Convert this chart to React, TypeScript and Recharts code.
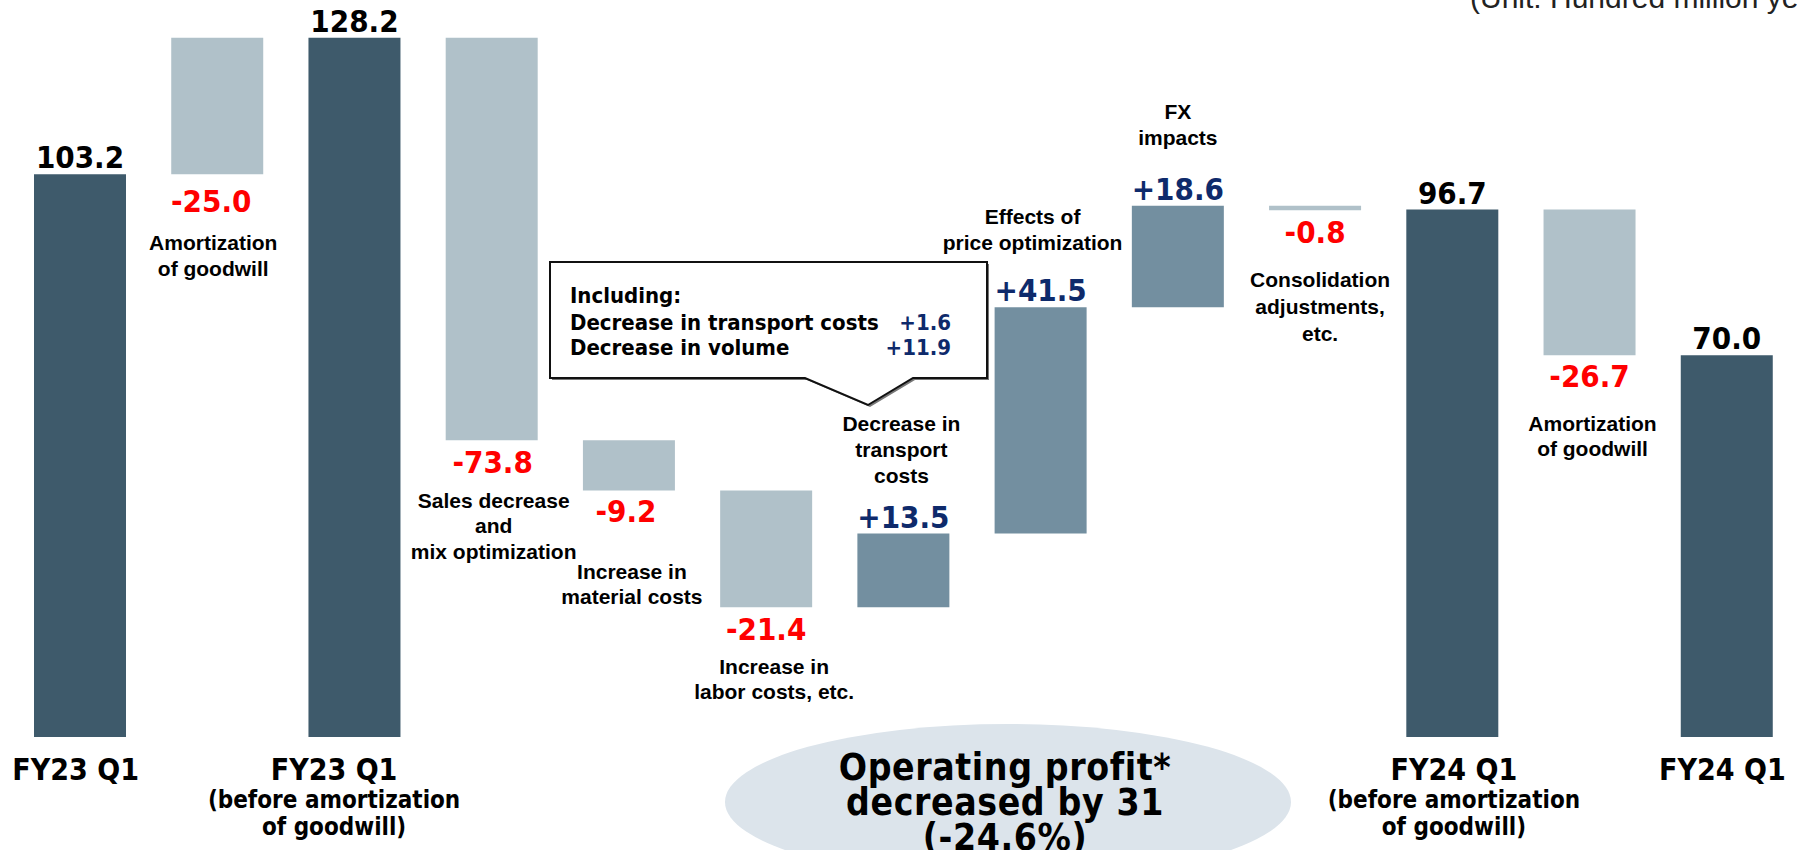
import { BarChart, Bar, XAxis, YAxis, Cell, LabelList } from "recharts";

const W = 1797;
const H = 850;

// one entry per bar, left to right
const values = [103.2, -25.0, 128.2, -73.8, -9.2, -21.4, 13.5, 41.5, 18.6, -0.8, 96.7, -26.7, 70.0];
const kinds = ["total", "bridge", "total", "step", "step", "step", "step", "step", "step", "step", "total", "bridge", "total"];

const axisLines: string[][] = [
  ["FY23 Q1"],
  [],
  ["FY23 Q1", "(before amortization", "of goodwill)"],
  [], [], [], [], [], [], [],
  ["FY24 Q1", "(before amortization", "of goodwill)"],
  [],
  ["FY24 Q1"],
];

const noteLines: string[][] = [
  [],
  ["Amortization", "of goodwill"],
  [],
  ["Sales decrease", "and", "mix optimization"],
  ["Increase in", "material costs"],
  ["Increase in", "labor costs, etc."],
  ["Decrease in", "transport", "costs"],
  ["Effects of", "price optimization"],
  ["FX", "impacts"],
  ["Consolidation", "adjustments,", "etc."],
  [],
  ["Amortization", "of goodwill"],
  [],
];

const calloutRows = [
  { label: "Decrease in transport costs", value: "+1.6" },
  { label: "Decrease in volume", value: "+11.9" },
];

const summary = ["Operating profit*", "decreased by 31", "(-24.6%)"];

const C = {
  total: "#3e5a6b",
  down: "#b0c1c9",
  up: "#738fa0",
  red: "#ff0000",
  navy: "#0e2a6b",
  bubble: "#dce4eb",
};

const BOLD = "'DejaVu Sans Condensed', 'DejaVu Sans', sans-serif";
const ARIAL = "'Liberation Sans', Arial, sans-serif";

// label placement relative to bar edge (top / bottom)
const PLACE = [
  { side: "top", v: -17, n: 0, lh: 0, dx: 0, ndx: 0 },
  { side: "bottom", v: 27, n: 68, lh: 26, dx: -6, ndx: -4 },
  { side: "top", v: -17, n: 0, lh: 0, dx: 0, ndx: 0 },
  { side: "bottom", v: 22, n: 60, lh: 25.5, dx: 1, ndx: 2 },
  { side: "bottom", v: 21, n: 81, lh: 25, dx: -3, ndx: 3 },
  { side: "bottom", v: 22, n: 59, lh: 25, dx: 0, ndx: 8 },
  { side: "top", v: -17, n: -110, lh: 26, dx: 0, ndx: -2 },
  { side: "top", v: -17, n: -91, lh: 26, dx: 0, ndx: -8 },
  { side: "top", v: -17, n: -94, lh: 26, dx: 0, ndx: 0 },
  { side: "bottom", v: 22, n: 69, lh: 27, dx: 0, ndx: 5 },
  { side: "top", v: -17, n: 0, lh: 0, dx: 0, ndx: 0 },
  { side: "bottom", v: 21, n: 68, lh: 25, dx: 0, ndx: 3 },
  { side: "top", v: -17, n: 0, lh: 0, dx: 0, ndx: 0 },
];
const TICK_DX = [-4, 0, -20, 0, 0, 0, 0, 0, 0, 0, 2, 0, -4];

let level = 0;
const rows = values.map((v, i) => {
  const kind = kinds[i];
  if (kind === "total") {
    level = v;
    return { key: String(i), base: 0, span: v };
  }
  if (kind === "bridge") {
    const a = values[i - 1];
    const b = values[i + 1];
    return { key: String(i), base: Math.min(a, b), span: Math.abs(b - a) };
  }
  const from = level;
  level = level + v;
  return { key: String(i), base: Math.min(from, level), span: Math.abs(v) };
});

const fillFor = (i: number) => {
  if (kinds[i] === "total") return C.total;
  if (kinds[i] === "bridge") return C.down;
  return values[i] < 0 ? C.down : C.up;
};

function StepLabel(props: any) {
  const i = props.index;
  if (i == null) return null;
  const vb = props.viewBox ?? props;
  const x = Number(vb.x);
  const w = Number(vb.width);
  const y0 = Math.min(Number(vb.y), Number(vb.y) + Number(vb.height));
  const y1 = Math.max(Number(vb.y), Number(vb.y) + Number(vb.height));
  const p = PLACE[i];
  const edge = p.side === "top" ? y0 : y1;
  const cx = x + w / 2;
  const v = values[i];
  const isTotal = kinds[i] === "total";
  const text = isTotal ? v.toFixed(1) : `${v > 0 ? "+" : ""}${v.toFixed(1)}`;
  const color = isTotal ? "#000" : v < 0 ? C.red : C.navy;
  return (
    <g>
      <text x={cx + p.dx} y={edge + p.v} textAnchor="middle" dominantBaseline="central"
        fontFamily={BOLD} fontWeight={700} fontSize={31} fill={color}>
        {text}
      </text>
      {noteLines[i].map((line, k) => (
        <text key={k} x={cx + p.ndx} y={edge + p.n + k * p.lh} textAnchor="middle" dominantBaseline="central"
          fontFamily={ARIAL} fontWeight={700} fontSize={21} fill="#000">
          {line}
        </text>
      ))}
    </g>
  );
}

function AxisTick(props: any) {
  const { x, y, payload } = props;
  const i = payload?.index ?? props.index;
  const lines = axisLines[i] ?? [];
  const cx = x + (TICK_DX[i] ?? 0);
  return (
    <g>
      {lines.map((line, k) => (
        <text key={k} x={cx} y={y + (k === 0 ? 32 : 36 + k * 27)} textAnchor="middle" dominantBaseline="central"
          fontFamily={BOLD} fontWeight={700} fontSize={k === 0 ? 30 : 24} fill="#000">
          {line}
        </text>
      ))}
    </g>
  );
}

export default function App() {
  return (
    <div style={{ position: "absolute", left: 0, top: 0, width: W, height: H, background: "#fff" }}>
      <BarChart width={W} height={H} data={rows} barSize={92} margin={{ top: 28, right: 2, left: 11, bottom: 0 }}>
        <XAxis dataKey="key" axisLine={false} tickLine={false} tickSize={0} tickMargin={0} height={113}
          interval={0} tick={<AxisTick />} />
        <YAxis hide domain={[0, 130]} />
        <Bar dataKey="base" stackId="w" fill="transparent" isAnimationActive={false} />
        <Bar dataKey="span" stackId="w" isAnimationActive={false}>
          {rows.map((r, i) => (
            <Cell key={r.key} fill={fillFor(i)} />
          ))}
          <LabelList dataKey="span" content={<StepLabel />} />
        </Bar>
      </BarChart>

      <svg width={W} height={H} style={{ position: "absolute", left: 0, top: 0, pointerEvents: "none" }}>
        <text x={1470} y={8} fontFamily={ARIAL} fontSize={30} fill="#222">(Unit: Hundred million yen)</text>

        {/* callout */}
        <path d="M552,264 H989 V380 H915 L870,407 L807,380 H552 Z" fill="#777" />
        <path d="M550,262 H987 V378 H913 L868,405 L805,378 H550 Z" fill="#fff" stroke="#111" strokeWidth={2} />
        <text x={570} y={295} dominantBaseline="central" fontFamily={BOLD} fontWeight={700} fontSize={22} fill="#000">
          Including:
        </text>
        {calloutRows.map((r, k) => (
          <g key={r.label}>
            <text x={570} y={322 + k * 25} dominantBaseline="central" fontFamily={BOLD} fontWeight={700} fontSize={22} fill="#000">
              {r.label}
            </text>
            <text x={951} y={322 + k * 25} textAnchor="end" dominantBaseline="central" fontFamily={BOLD} fontWeight={700} fontSize={22} fill={C.navy}>
              {r.value}
            </text>
          </g>
        ))}

        {/* summary bubble */}
        <ellipse cx={1008} cy={802} rx={283} ry={78} fill={C.bubble} />
        {summary.map((t, k) => (
          <text key={t} x={1005} y={767 + k * 35} textAnchor="middle" dominantBaseline="central"
            fontFamily={BOLD} fontWeight={700} fontSize={37} letterSpacing={0.6} fill="#000">
            {t}
          </text>
        ))}
      </svg>
    </div>
  );
}
